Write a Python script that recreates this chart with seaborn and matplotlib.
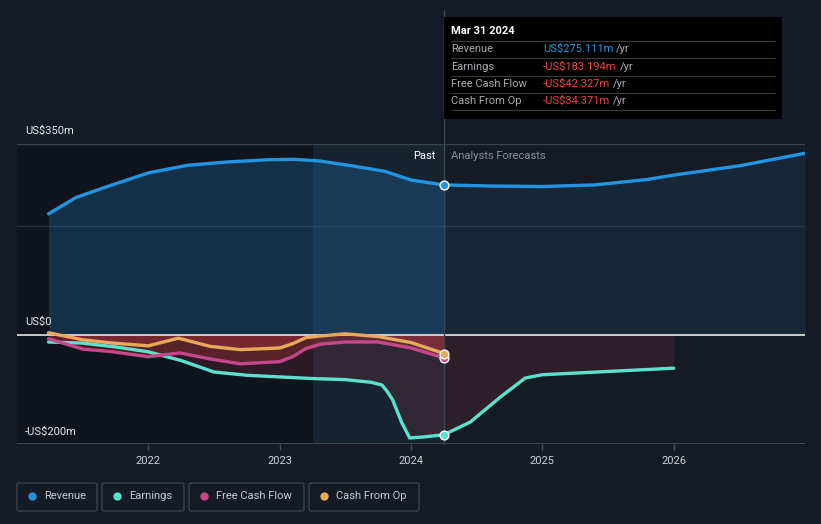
import seaborn as sns
import matplotlib.pyplot as plt
import pandas as pd
from matplotlib.patches import Rectangle, FancyBboxPatch

# values in US$ millions, x in decimal years
rev_x = [2021.24, 2021.45, 2021.7, 2022.0, 2022.3, 2022.6, 2022.9, 2023.1, 2023.3, 2023.55,
         2023.8, 2024.0, 2024.25, 2024.6, 2025.0, 2025.4, 2025.8, 2026.0, 2026.5, 2027.0]
rev_y = [222, 252, 273, 297, 311, 317, 321, 322, 319, 310,
         300, 284, 275, 273, 272, 275, 285, 293, 310, 333]

earn_x = [2021.24, 2021.5, 2021.75, 2022.0, 2022.25, 2022.5, 2022.75, 2023.0, 2023.25, 2023.5,
          2023.7, 2023.78, 2023.82, 2023.86, 2023.93, 2023.99, 2024.1, 2024.25, 2024.45, 2024.68,
          2024.87, 2025.0, 2025.5, 2026.0]
earn_y = [-13, -15, -22, -31, -47, -68, -74, -77, -80, -82,
          -87, -92, -104, -119, -161, -189, -187, -183, -160, -114,
          -79, -73, -67, -61]

fcf_x = [2021.24, 2021.5, 2021.73, 2022.0, 2022.24, 2022.47, 2022.7, 2023.0, 2023.1, 2023.2,
         2023.31, 2023.5, 2023.75, 2024.0, 2024.25]
fcf_y = [-7, -26, -31, -40, -33, -44, -53, -49, -40, -25,
         -17, -13, -13, -24, -42]

cfo_x = [2021.24, 2021.5, 2021.73, 2022.0, 2022.23, 2022.47, 2022.7, 2023.0, 2023.1, 2023.2,
         2023.31, 2023.5, 2023.75, 2024.0, 2024.25]
cfo_y = [4, -9, -15, -20, -6, -21, -27, -24, -16, -5,
         -2, 2, -3, -14, -34]

year_ticks = [2022, 2023, 2024, 2025, 2026]
now = 2024.25

BG = "#151b26"
C_REV = "#2394df"
C_EARN = "#5ce1cf"
C_FCF = "#c6468a"
C_CFO = "#e8a95a"

W, H = 821, 524


def fx(x):
    return x / W


def fy(y):
    return 1 - y / H


sns.set_theme(style="dark")
plt.rcParams["font.family"] = ["Roboto", "DejaVu Sans"]

fig = plt.figure(figsize=(8.21, 5.24), dpi=100, facecolor=BG)
ax = fig.add_axes([fx(17), fy(444), 788 / W, 300 / H])
ax.set_facecolor(BG)
ax.set_xlim(2021.0, 2027.0)
ax.set_ylim(-200, 350)

# background regions
ax.axvspan(2021.0, 2023.25, color="#0b0f14", alpha=0.45, lw=0, zorder=0)
ax.axvspan(2023.25, now, color="#2a6a9a", alpha=0.1, lw=0, zorder=0)

# grid lines
ax.axhline(350, color="#3c4452", lw=1, zorder=1)
ax.axhline(200, color="#2a3442", lw=0.8, zorder=1)
ax.axhline(-200, color="#4a505a", lw=1.2, zorder=1)

df_rev = pd.DataFrame({"x": rev_x, "y": rev_y})
df_earn = pd.DataFrame({"x": earn_x, "y": earn_y})
df_fcf = pd.DataFrame({"x": fcf_x, "y": fcf_y})
df_cfo = pd.DataFrame({"x": cfo_x, "y": cfo_y})

# area fills
past = df_rev[df_rev.x <= now]
fut = df_rev[df_rev.x >= now]
ax.fill_between(past.x, past.y, 0, color=C_REV, alpha=0.22, lw=0, zorder=2)
ax.fill_between(fut.x, fut.y, 0, color=C_REV, alpha=0.1, lw=0, zorder=2)
for d in (df_cfo, df_fcf):
    ax.fill_between(d.x, d.y.clip(upper=0), 0, color="#d0343c", alpha=0.28, lw=0, zorder=2)
pe = df_earn[df_earn.x <= now]
fe = df_earn[df_earn.x >= now]
ax.fill_between(pe.x, pe.y, 0, color="#b03a48", alpha=0.18, lw=0, zorder=2)
ax.fill_between(fe.x, fe.y.clip(upper=0), 0, color="#6a2530", alpha=0.3, lw=0, zorder=2)

ax.axhline(0, color="#e8e8e8", lw=1.2, zorder=3)

for d, c in ((df_rev, C_REV), (df_earn, C_EARN), (df_fcf, C_FCF), (df_cfo, C_CFO)):
    sns.lineplot(data=d, x="x", y="y", color=c, lw=2.4, ax=ax, zorder=4, sort=False)

# markers at the current point
for val, c in ((275.111, C_REV), (-183.194, C_EARN), (-42.327, C_FCF), (-34.371, C_CFO)):
    ax.scatter([now], [val], s=40, color=c, edgecolor="white", linewidth=1, zorder=6)

ax.axvline(now, ymin=0, ymax=(444 - 10) / 300, color="#3a4656", lw=1, zorder=5, clip_on=False)

# axes styling
for s in ax.spines.values():
    s.set_visible(False)
ax.set_xlabel("")
ax.set_ylabel("")
ax.set_yticks([])
ax.set_xticks(year_ticks)
ax.set_xticklabels([str(t) for t in year_ticks])
ax.tick_params(axis="x", colors="#4a505a", length=4, width=1, direction="out", pad=5,
               labelcolor="#d0d4da", labelsize=8, bottom=True)
ax.grid(False)

# y labels
fig.text(fx(25), fy(131), "US$350m", color="#e6e8ea", fontsize=8, va="center")
fig.text(fx(25), fy(322), "US$0", color="#e6e8ea", fontsize=8, va="center")
fig.text(fx(25), fy(432), "-US$200m", color="#e6e8ea", fontsize=8, va="center")

fig.text(fx(435), fy(156), "Past", color="#ffffff", fontsize=8, ha="right", va="center")
fig.text(fx(451), fy(156), "Analysts Forecasts", color="#8a9099", fontsize=8, va="center")

# tooltip
fig.patches.append(Rectangle((fx(444), fy(119)), 338 / W, 102 / H, transform=fig.transFigure,
                             facecolor="#000000", edgecolor="none", zorder=10))
fig.text(fx(451), fy(31), "Mar 31 2024", color="#ffffff", fontsize=8, fontweight="bold",
         va="center", zorder=11)
rows = [("Revenue", "US$275.111m", C_REV),
        ("Earnings", "-US$183.194m", "#ef4444"),
        ("Free Cash Flow", "-US$42.327m", "#ef4444"),
        ("Cash From Op", "-US$34.371m", "#ef4444")]
for i, (lab, val, c) in enumerate(rows):
    yline = 41 + i * 17.3
    fig.lines.append(plt.Line2D([fx(451), fx(775)], [fy(yline), fy(yline)], transform=fig.transFigure,
                                color="#3a3a3a", lw=0.8, zorder=11))
    yt = yline + 8.3
    fig.text(fx(451), fy(yt), lab, color="#a8abb0", fontsize=8, va="center", zorder=11)
    t = fig.text(fx(543), fy(yt), val, color=c, fontsize=8, va="center", zorder=11)
    fig.canvas.draw()
    bb = t.get_window_extent()
    fig.text(bb.x1 / fig.dpi / 8.21 + 3 / W, fy(yt), "/yr", color="#a8abb0", fontsize=8,
             va="center", zorder=11)
fig.lines.append(plt.Line2D([fx(451), fx(775)], [fy(110), fy(110)], transform=fig.transFigure,
                            color="#3a3a3a", lw=0.8, zorder=11))

# legend
legend_items = [("Revenue", C_REV, 17, 97), ("Earnings", C_EARN, 102, 184),
                ("Free Cash Flow", C_FCF, 189, 304), ("Cash From Op", C_CFO, 309, 419)]
for lab, c, x0, x1 in legend_items:
    fig.patches.append(FancyBboxPatch((fx(x0), fy(511)), (x1 - x0) / W, 28 / H,
                                      boxstyle="round,pad=0,rounding_size=0.003",
                                      transform=fig.transFigure, facecolor="none",
                                      edgecolor="#3c424c", lw=1))
    fig.lines.append(plt.Line2D([fx(x0 + 15)], [fy(496)], transform=fig.transFigure,
                                marker="o", markersize=6, color=c, markeredgewidth=0, lw=0))
    fig.text(fx(x0 + 27), fy(496), lab, color="#c8ccd2", fontsize=8, va="center")

plt.savefig("out.png", dpi=100, facecolor=BG)
